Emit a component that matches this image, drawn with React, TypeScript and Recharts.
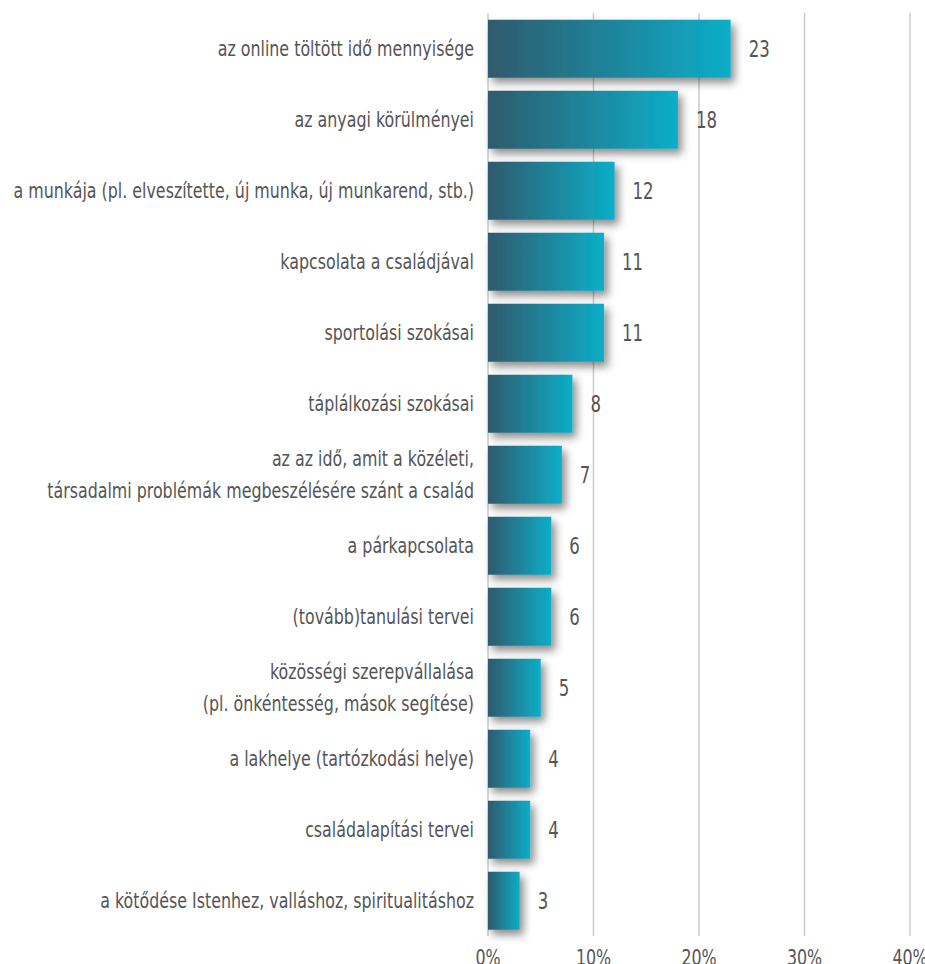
import { BarChart, Bar, XAxis, YAxis, CartesianGrid, LabelList } from 'recharts';

const categories = [
  'az online töltött idő mennyisége',
  'az anyagi körülményei',
  'a munkája (pl. elveszítette, új munka, új munkarend, stb.)',
  'kapcsolata a családjával',
  'sportolási szokásai',
  'táplálkozási szokásai',
  'az az idő, amit a közéleti,\ntársadalmi problémák megbeszélésére szánt a család',
  'a párkapcsolata',
  '(tovább)tanulási tervei',
  'közösségi szerepvállalása\n(pl. önkéntesség, mások segítése)',
  'a lakhelye (tartózkodási helye)',
  'családalapítási tervei',
  'a kötődése Istenhez, valláshoz, spiritualitáshoz',
];

const values = [23, 18, 12, 11, 11, 8, 7, 6, 6, 5, 4, 4, 3];

const xTicks = [0, 10, 20, 30, 40];

const data = categories.map((name, i) => ({ name, value: values[i] }));

const FONT = '"DejaVu Sans Condensed", "Liberation Sans Narrow", sans-serif';
const TEXT = '#555555';
const SX = 0.84; // squeeze text horizontally, the original uses a condensed face

function CategoryTick(props: any) {
  const { x, y, payload } = props;
  const lines = String(payload.value).split('\n');
  const lh = 32;
  const start = -((lines.length - 1) * lh) / 2;
  return (
    <text
      transform={`translate(${x},${y}) scale(${SX},1)`}
      textAnchor="end"
      fill={TEXT}
      fontSize={21}
      fontFamily={FONT}
    >
      {lines.map((l, i) => (
        <tspan key={i} x={0} y={start + i * lh} dy="0.36em">
          {l}
        </tspan>
      ))}
    </text>
  );
}

function PercentTick(props: any) {
  const { x, y, payload } = props;
  return (
    <text
      transform={`translate(${x},${y}) scale(${SX},1)`}
      textAnchor="middle"
      fill={TEXT}
      fontSize={21}
      fontFamily={FONT}
      dy="0.71em"
    >
      {`${payload.value}%`}
    </text>
  );
}

function ValueLabel(props: any) {
  const { x, y, width, height, value } = props;
  const tx = x + width + 18;
  const ty = y + height / 2;
  return (
    <text
      transform={`translate(${tx},${ty}) scale(0.8,1)`}
      fill={TEXT}
      fontSize={23}
      fontFamily={FONT}
      dy="0.36em"
    >
      {value}
    </text>
  );
}

function ShadowBar(props: any) {
  const { x, y, width, height, index } = props;
  const gid = `grad-${index}`;
  const fid = `shadow-${index}`;
  return (
    <g>
      <defs>
        <linearGradient id={gid} x1="0" y1="0" x2="1" y2="0">
          <stop offset="0%" stopColor="#305a6d" />
          <stop offset="100%" stopColor="#0caec8" />
        </linearGradient>
        <filter id={fid} x="-20%" y="-30%" width="160%" height="170%">
          <feDropShadow dx="4" dy="5" stdDeviation="4" floodColor="#000" floodOpacity="0.45" />
        </filter>
      </defs>
      <rect x={x} y={y} width={width} height={height} fill={`url(#${gid})`} filter={`url(#${fid})`} />
    </g>
  );
}

export default function App() {
  return (
    <div style={{ position: 'absolute', left: 0, top: 0, width: 925, height: 964, background: '#fff' }}>
      <BarChart
        width={925}
        height={964}
        data={data}
        layout="vertical"
        margin={{ top: 13, right: 15, bottom: 0, left: 0 }}
        barCategoryGap="9.5%"
      >
        <CartesianGrid horizontal={false} stroke="#cccccc" strokeWidth={1.5} />
        <XAxis
          type="number"
          domain={[0, 40]}
          ticks={xTicks}
          axisLine={false}
          tickLine={false}
          tickSize={0}
          tickMargin={14}
          height={28}
          interval={0}
          tick={<PercentTick />}
        />
        <YAxis
          type="category"
          dataKey="name"
          width={488}
          axisLine={false}
          tickLine={false}
          tickSize={0}
          tickMargin={14}
          interval={0}
          tick={<CategoryTick />}
        />
        <Bar dataKey="value" isAnimationActive={false} shape={<ShadowBar />}>
          <LabelList dataKey="value" content={<ValueLabel />} />
        </Bar>
      </BarChart>
    </div>
  );
}
